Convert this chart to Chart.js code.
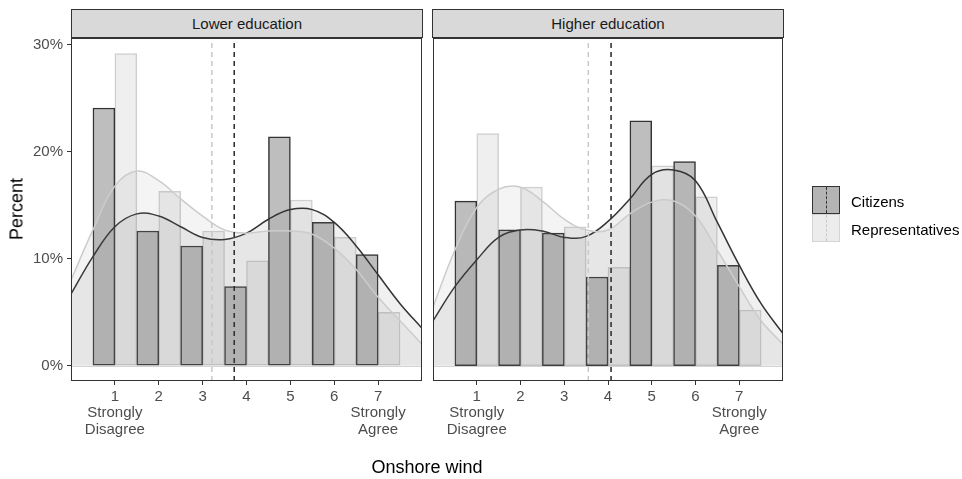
<!DOCTYPE html>
<html>
<head>
<meta charset="utf-8">
<title>Onshore wind</title>
<script src="https://cdn.jsdelivr.net/npm/chart.js@4.4.1/dist/chart.umd.min.js"></script>
<style>
    body { margin: 0; background: #fff; font-family: "Liberation Sans", Arial, sans-serif; }
    #wrap { position: relative; width: 962px; height: 479px; overflow: hidden; }
    #wrap canvas { position: absolute; left: 0; top: 0; }
    .strip {
        position: absolute; top: 9px; height: 29px; box-sizing: border-box;
        background: #d9d9d9; border: 1px solid #333; color: #1a1a1a;
        font-size: 15px; line-height: 27px; text-align: center;
    }
    .axis-title { position: absolute; font-size: 18px; color: #000; white-space: nowrap; }
    .key { position: absolute; left: 812px; width: 28px; height: 28px; box-sizing: border-box; }
    .key span { position: absolute; left: 13px; top: 0; bottom: 0; border-left: 1px dashed; }
    .key-label { position: absolute; left: 851px; font-size: 15px; color: #000; transform: translateY(-50%); }
</style>
</head>
<body>
<div id="wrap">
    <canvas id="lowerChart" width="962" height="479"></canvas>
    <canvas id="higherChart" width="962" height="479"></canvas>

    <div class="strip" style="left:71px; width:352px;">Lower education</div>
    <div class="strip" style="left:432px; width:352px;">Higher education</div>

    <div class="axis-title" style="left:17px; top:209px; transform: translate(-50%, -50%) rotate(-90deg);">Percent</div>
    <div class="axis-title" style="left:427px; top:467px; transform: translate(-50%, -50%);">Onshore wind</div>

    <div class="key" style="top:186px; background:#b4b4b4; border:1px solid #333;"><span style="border-color:#333;"></span></div>
    <div class="key" style="top:214px; background:#ececec; border:1px solid #d4d4d4;"><span style="border-color:#c8c8c8;"></span></div>
    <div class="key-label" style="top:201px;">Citizens</div>
    <div class="key-label" style="top:229px;">Representatives</div>
</div>

<script>
// answer categories (1 = strongly disagree ... 7 = strongly agree)
const categories = [1, 2, 3, 4, 5, 6, 7];
const xLabels = {
    1: ['1', 'Strongly', 'Disagree'],
    7: ['7', 'Strongly', 'Agree']
};
const yTicks = [0, 10, 20, 30];

// histogram percentages per category
const lowerCitizens = [24.1, 12.6, 11.2, 7.4, 21.4, 13.4, 10.4];
const lowerReps = [29.2, 16.3, 12.6, 9.8, 15.5, 12.0, 5.0];
const higherCitizens = [15.4, 12.7, 12.4, 8.3, 22.9, 19.1, 9.4];
const higherReps = [21.7, 16.7, 13.0, 9.2, 18.7, 15.8, 5.2];

// density curves, sampled every half point
const densityX = [0, 0.5, 1, 1.5, 2, 2.5, 3, 3.5, 4, 4.5, 5, 5.5, 6, 6.5, 7, 7.5, 8];
const lowerCitizensDensity = [6.7, 10.2, 13.0, 14.2, 14.0, 13.0, 12.0, 11.8, 12.4, 13.7, 14.6, 14.6, 13.4, 11.2, 8.5, 5.8, 3.5];
const lowerRepsDensity = [8.0, 12.7, 16.8, 18.2, 17.3, 15.6, 14.0, 12.7, 12.4, 12.6, 12.6, 12.3, 11.0, 9.0, 6.4, 4.2, 2.0];
const higherCitizensDensity = [4.2, 7.4, 9.9, 12.0, 12.7, 12.6, 12.0, 12.1, 13.5, 15.6, 17.9, 18.3, 17.3, 13.4, 9.4, 5.8, 3.0];
const higherRepsDensity = [5.5, 10.8, 14.8, 16.5, 16.7, 15.4, 13.7, 12.7, 12.7, 14.2, 15.3, 15.4, 14.0, 10.8, 7.4, 4.2, 2.0];

// group means: [citizens, representatives]
const lowerMeans = [3.72, 3.21];
const higherMeans = [4.07, 3.55];

const X_MIN = 0, X_MAX = 8;
const Y_MIN = -1.43, Y_MAX = 30.65;

Chart.defaults.font.family = '"Liberation Sans", Arial, sans-serif';

const DARK = '#333333';
const LIGHT = '#cccccc';

// panel border plus the light zero line under the densities
const panelFrame = {
    id: 'panelFrame',
    beforeDatasetsDraw(chart) {
        const { ctx, chartArea: a, scales } = chart;
        const y0 = Math.round(scales.y.getPixelForValue(0)) + 0.5;
        ctx.save();
        ctx.strokeStyle = '#d4d4d4';
        ctx.lineWidth = 1;
        ctx.beginPath();
        ctx.moveTo(a.left, y0);
        ctx.lineTo(a.right, y0);
        ctx.stroke();
        ctx.restore();
    },
    afterDraw(chart) {
        const { ctx, chartArea: a } = chart;
        ctx.save();
        ctx.strokeStyle = DARK;
        ctx.lineWidth = 1;
        ctx.strokeRect(a.left + 0.5, a.top + 0.5, a.right - a.left - 1, a.bottom - a.top - 1);
        ctx.restore();
    }
};

function points(xs, ys) {
    return xs.map((x, i) => ({ x: x, y: ys[i] }));
}

function meanLine(m) {
    return [{ x: m, y: Y_MIN }, { x: m, y: Y_MAX }];
}

// left = chart area left edge, right = page width minus chart area right edge
function buildPanel(canvasId, citizens, reps, citDensity, repDensity, means, showY, left, right) {
    const ctx = document.getElementById(canvasId).getContext('2d');

    return new Chart(ctx, {
        type: 'bar',
        data: {
            datasets: [
                {
                    label: 'Citizens',
                    data: points(categories, citizens),
                    backgroundColor: '#bebebe',
                    borderColor: DARK,
                    borderWidth: 1.5,
                    borderSkipped: false,
                    barPercentage: 1,
                    categoryPercentage: 1,
                    order: 10
                },
                {
                    label: 'Representatives',
                    data: points(categories, reps),
                    backgroundColor: '#efefef',
                    borderColor: '#cfcfcf',
                    borderWidth: 1.5,
                    borderSkipped: false,
                    barPercentage: 1,
                    categoryPercentage: 1,
                    order: 10
                },
                {
                    type: 'line',
                    data: points(densityX, citDensity),
                    borderColor: DARK,
                    borderWidth: 1.5,
                    backgroundColor: 'rgba(128,128,128,0.12)',
                    fill: 'origin',
                    tension: 0.4,
                    pointRadius: 0,
                    order: 6
                },
                {
                    type: 'line',
                    data: points(densityX, repDensity),
                    borderColor: LIGHT,
                    borderWidth: 1.5,
                    backgroundColor: 'rgba(128,128,128,0.09)',
                    fill: 'origin',
                    tension: 0.4,
                    pointRadius: 0,
                    order: 5
                },
                {
                    type: 'line',
                    data: meanLine(means[1]),
                    borderColor: '#c8c8c8',
                    borderWidth: 1.5,
                    borderDash: [5, 4],
                    pointRadius: 0,
                    fill: false,
                    order: 2
                },
                {
                    type: 'line',
                    data: meanLine(means[0]),
                    borderColor: DARK,
                    borderWidth: 1.6,
                    borderDash: [5, 4],
                    pointRadius: 0,
                    fill: false,
                    order: 1
                }
            ]
        },
        options: {
            responsive: false,
            animation: false,
            events: [],
            layout: { padding: { left: 0, top: 38, right: right, bottom: 0 } },
            plugins: {
                legend: { display: false },
                tooltip: { enabled: false }
            },
            scales: {
                x: {
                    type: 'linear',
                    min: X_MIN,
                    max: X_MAX,
                    offset: false,
                    afterBuildTicks: (scale) => {
                        scale.ticks = categories.map(v => ({ value: v }));
                    },
                    afterFit: (scale) => { scale.height = 98; },
                    grid: {
                        offset: false,
                        drawOnChartArea: false,
                        tickLength: 4,
                        color: DARK
                    },
                    border: { display: false },
                    ticks: {
                        padding: 4,
                        color: '#4d4d4d',
                        font: { size: 15, lineHeight: 1.08 },
                        maxRotation: 0,
                        autoSkip: false,
                        callback: (v) => xLabels[v] || String(v)
                    }
                },
                y: {
                    min: Y_MIN,
                    max: Y_MAX,
                    afterBuildTicks: (scale) => {
                        scale.ticks = yTicks.map(v => ({ value: v }));
                    },
                    afterFit: (scale) => { scale.width = left; },
                    grid: {
                        display: showY,
                        drawOnChartArea: false,
                        tickLength: 4,
                        color: DARK
                    },
                    border: { display: false },
                    ticks: {
                        display: showY,
                        padding: 4,
                        color: '#4d4d4d',
                        font: { size: 15 },
                        callback: (v) => v + '%'
                    }
                }
            }
        },
        plugins: [panelFrame]
    });
}

buildPanel('lowerChart', lowerCitizens, lowerReps, lowerCitizensDensity, lowerRepsDensity, lowerMeans,
    true, 71, 540);
buildPanel('higherChart', higherCitizens, higherReps, higherCitizensDensity, higherRepsDensity, higherMeans,
    false, 433, 179);
</script>
</body>
</html>
